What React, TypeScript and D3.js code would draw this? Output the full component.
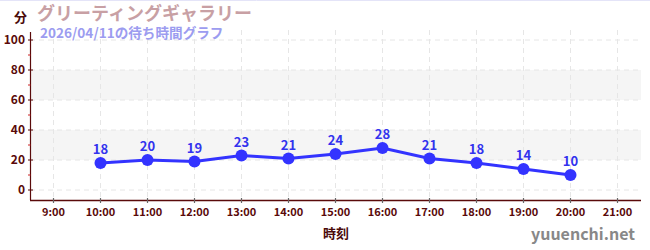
import React from 'react';
import * as d3 from 'd3';

const hours = [10, 11, 12, 13, 14, 15, 16, 17, 18, 19, 20];
const waits = [18, 20, 19, 23, 21, 24, 28, 21, 18, 14, 10];
const xTickHours = [9, 10, 11, 12, 13, 14, 15, 16, 17, 18, 19, 20, 21];
const yMajorTicks = [0, 20, 40, 60, 80, 100];
const yMinorTicks = [10, 30, 50, 70, 90];
const bands = [[20, 40], [60, 80]];
const title = 'グリーティングギャラリー';
const subtitle = '2026/04/11の待ち時間グラフ';
const yUnit = '分';
const xLabel = '時刻';
const site = 'yuuenchi.net';

const W = 650, H = 250;
const left = 30, right = 641, top = 40, zeroY = 190, axisY = 200;
const font = '"Noto Sans CJK JP", "Noto Sans", sans-serif';
const axisColor = '#5a0a0a';

export default function App() {
  const x = d3.scaleLinear().domain([8.5, 21.5]).range([left, right]);
  const y = d3.scaleLinear().domain([0, 100]).range([zeroY, top]);
  const line = d3.line<number>().x((_, i) => x(hours[i])).y((d) => y(d));

  return (
    <svg width={W} height={H} style={{ position: 'absolute', left: 0, top: 0, background: '#fff' }} fontFamily={font}>
      <line x1={0} x2={W} y1={0.5} y2={0.5} stroke="#e4e4f8" strokeWidth={1} />
      {bands.map(([a, b], i) => (
        <rect key={i} x={left} width={right - left} y={y(b)} height={y(a) - y(b)} fill="#f5f5f5" />
      ))}
      {yMajorTicks.map((t) => (
        <line key={'gy' + t} x1={left} x2={right} y1={y(t)} y2={y(t)} stroke="#e6e6e6" strokeDasharray="5,4" />
      ))}
      {xTickHours.map((h) => (
        <line key={'gx' + h} x1={x(h)} x2={x(h)} y1={top - 10} y2={axisY} stroke="#e6e6e6" strokeDasharray="5,4" />
      ))}
      <line x1={left + 0.5} x2={left + 0.5} y1={top - 8} y2={axisY} stroke={axisColor} strokeWidth={1.2} />
      <line x1={left} x2={right} y1={axisY + 0.5} y2={axisY + 0.5} stroke={axisColor} strokeWidth={1.5} />
      {yMajorTicks.map((t) => (
        <g key={'yt' + t}>
          <line x1={left - 2} x2={left + 3} y1={y(t)} y2={y(t)} stroke={axisColor} />
          <text x={left - 5} y={y(t)} dy="0.36em" textAnchor="end" fontSize={12} fontWeight="bold" fill={axisColor}>{t}</text>
        </g>
      ))}
      {yMinorTicks.map((t) => (
        <line key={'ym' + t} x1={left - 2} x2={left + 0.5} y1={y(t)} y2={y(t)} stroke="#cc2222" />
      ))}
      {xTickHours.map((h) => (
        <g key={'xt' + h}>
          <line x1={x(h)} x2={x(h)} y1={axisY - 2} y2={axisY + 3} stroke="#666" strokeWidth={1.2} />
          <text x={x(h)} y={axisY + 16} textAnchor="middle" fontSize={11} fontWeight="bold" fill={axisColor}>{h}:00</text>
        </g>
      ))}
      <path d={line(waits) || ''} fill="none" stroke="#3333ff" strokeWidth={3} />
      {waits.map((v, i) => (
        <g key={'p' + i}>
          <circle cx={x(hours[i])} cy={y(v)} r={6} fill="#3333ff" />
          <text x={x(hours[i])} y={y(v) - 9} textAnchor="middle" fontSize={13} fontWeight="bold" fill="#3333ee">{v}</text>
        </g>
      ))}
      <text x={14} y={22} fontSize={13} fontWeight="bold" fill="#4a0a0a">{yUnit}</text>
      <text x={37} y={20} fontSize={18} fontWeight="bold" fill="#c8a0a4">{title}</text>
      <text x={40} y={38} fontSize={13.6} fontWeight="bold" fill="#9c9cf0">{subtitle}</text>
      <text x={336} y={238} textAnchor="middle" fontSize={13} fontWeight="bold" fill="#4a0a0a">{xLabel}</text>
      <text x={635} y={240} textAnchor="end" fontSize={16} fontWeight="bold" fill="#888">{site}</text>
    </svg>
  );
}
